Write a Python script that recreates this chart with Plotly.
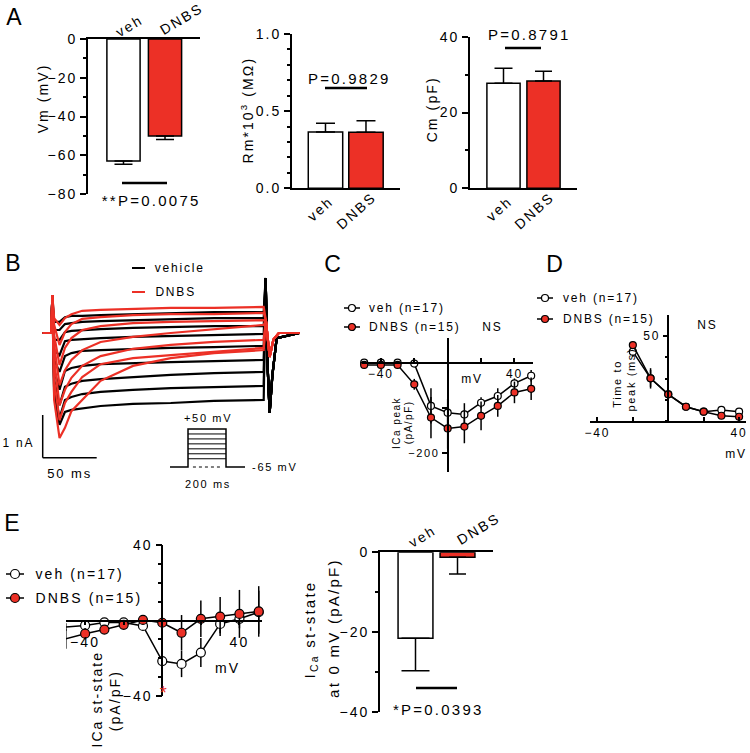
import re
import plotly.graph_objects as go

W, H = 750, 753
FONT = "Liberation Sans, Arial, Helvetica, sans-serif"
RED = "#EC3026"
LW = 1.5
SPACING = 0.15  # letter spacing in em, applied in the page


def fx(p):
    return p / W


def fy(p):
    return 1 - p / H


# ---------------- DATA ----------------
groups = ["veh", "DNBS"]

vm_mean = [-63.0, -50.0]
vm_sem = [1.7, 1.9]
rm_mean = [0.365, 0.363]
rm_sem = [0.056, 0.075]
cm_mean = [27.7, 28.3]
cm_sem = [4.0, 2.6]
ss0_mean = [-21.5, -1.25]
ss0_sem = [8.1, 4.2]

p_vm = "**P=0.0075"
p_rm = "P=0.9829"
p_cm = "P=0.8791"
p_ss0 = "*P=0.0393"

# Panel B: representative current traces (nA) read at these times (ms)
trace_t = [2, 7, 12, 18, 28, 45, 75, 110, 150, 196]
vehicle_traces = [
    [0.26, 0.26, 0.37, 0.40, 0.40, 0.42, 0.44, 0.47, 0.49, 0.49],
    [0.07, 0.07, 0.21, 0.23, 0.26, 0.28, 0.30, 0.33, 0.35, 0.35],
    [-0.16, -0.16, 0.02, 0.05, 0.07, 0.09, 0.12, 0.14, 0.16, 0.16],
    [-0.40, -0.52, -0.19, -0.16, -0.14, -0.12, -0.09, -0.07, -0.05, -0.02],
    [-0.63, -0.91, -0.54, -0.47, -0.42, -0.40, -0.37, -0.35, -0.33, -0.30],
    [-0.87, -1.33, -0.89, -0.82, -0.77, -0.73, -0.70, -0.68, -0.66, -0.63],
    [-1.10, -1.69, -1.26, -1.19, -1.12, -1.08, -1.03, -0.98, -0.94, -0.91],
    [-1.33, -1.99, -1.57, -1.50, -1.43, -1.38, -1.33, -1.29, -1.26, -1.24],
    [-1.45, -2.15, -1.85, -1.80, -1.76, -1.71, -1.66, -1.64, -1.59, -1.57],
]
dnbs_traces = [
    [0.35, 0.19, 0.35, 0.44, 0.52, 0.54, 0.56, 0.59, 0.59, 0.61],
    [0.19, -0.28, 0.02, 0.21, 0.33, 0.37, 0.42, 0.44, 0.44, 0.47],
    [-0.05, -0.75, -0.35, -0.12, 0.07, 0.16, 0.23, 0.26, 0.28, 0.30],
    [-0.28, -1.22, -0.87, -0.63, -0.40, -0.21, -0.09, 0.00, 0.09, 0.19],
    [-0.63, -1.69, -1.33, -1.05, -0.77, -0.54, -0.37, -0.28, -0.21, -0.16],
    [-1.10, -2.04, -1.64, -1.38, -1.03, -0.73, -0.59, -0.52, -0.44, -0.35],
    [-1.57, -2.46, -2.22, -1.83, -1.57, -1.12, -0.77, -0.59, -0.47, -0.40],
]
onset_t = [-8.5, -0.5, 0.3]
onset_i = [0.0, 0.0, 0.89]
vehicle_tail_t = [197.8, 199.3, 201.5, 204, 208, 229]
vehicle_tail_i = [1.29, -0.6, -1.87, -1.0, -0.12, 0.0]
dnbs_tail_t = [198, 201.5, 205, 210, 229]
dnbs_tail_i = [0.3, -0.56, -0.15, 0.0, 0.0]

# voltage protocol
holding_mv = -65
step_mv = [-40, -25, -10, 5, 20, 35, 50]
step_ms = 200
pre_ms = 95
post_ms = 100

# Panel C: peak ICa (pA/pF)
volt = [-50, -40, -30, -20, -10, 0, 10, 20, 30, 40, 50]
peak_veh = [0, 0, 0, -2, -96, -111, -115, -89, -74, -46, -29]
peak_veh_err = [2, 2, 2, 3, 39, 30, 25, 12, 17, 11, 13]
peak_dnbs = [-5, -5, -5, -48, -122, -146, -142, -118, -96, -66, -58]
peak_dnbs_err = [2, 2, 2, 12, 46, 45, 37, 32, 24, 24, 25]

# Panel D: time to peak (ms)
volt_d = [-20, -10, 0, 10, 20, 30, 40]
ttp_veh = [40.8, 25.1, 15.7, 8.4, 5.5, 6.5, 5.5]
ttp_veh_err = [3, 6, 1, 1, 1, 1, 1]
ttp_dnbs = [44.7, 25.1, 15.7, 8.4, 5.5, 3.1, 2.5]
ttp_dnbs_err = [2, 5, 1, 1, 1, 1, 1]

# Panel E: steady-state ICa (pA/pF)
ss_veh = [-3.5, -2.6, -1.0, -1.0, -2.9, -21.5, -23.0, -17.0, -1.8, 0.9, 4.4]
ss_veh_err = [2, 2, 1.5, 1.5, 2, 8, 7, 7.7, 5, 5, 11.4]
ss_dnbs = [-9.7, -7.0, -4.8, -2.3, 0.3, -1.2, -6.5, 0.9, 2.1, 3.5, 4.8]
ss_dnbs_err = [5.3, 3, 2, 2, 2, 4, 9.4, 9.7, 10.3, 12.7, 13.4]

legend_labels = ["veh (n=17)", "DNBS (n=15)"]
trace_labels = ["vehicle", "DNBS"]

# ---------------- FIGURE ----------------
fig = go.Figure()
annotations = []
shapes = []


def ann(text, x, y, size=14, xanchor="center", yanchor="middle", angle=0,
        color="black", family=None):
    if xanchor == "left":
        # compensate the page letter-spacing that widens centred annotation text
        plain = re.sub("<[^>]+>", "", text)
        x += 0.5 * SPACING * size * len(plain)
    annotations.append(dict(
        text=text, x=fx(x), y=fy(y), xref="paper", yref="paper",
        showarrow=False, xanchor=xanchor, yanchor=yanchor, textangle=angle,
        font=dict(size=size, color=color, family=family or FONT)))


def seg(x0, y0, x1, y1, color="black", width=LW, dash=None):
    line = dict(color=color, width=width)
    if dash:
        line["dash"] = dash
    shapes.append(dict(type="line", xref="paper", yref="paper",
                       x0=fx(x0), y0=fy(y0), x1=fx(x1), y1=fy(y1), line=line))


def legend_item(cx, cy, fill, label, size, d, half, tx):
    seg(cx - half, cy, cx + half, cy)
    shapes.append(dict(type="circle", xref="paper", yref="paper",
                       x0=fx(cx - d / 2), x1=fx(cx + d / 2),
                       y0=fy(cy + d / 2), y1=fy(cy - d / 2),
                       fillcolor=fill, line=dict(color="black", width=1.2)))
    ann(label, tx, cy, size, xanchor="left")


def add_bars(xa, ya, means, sems, bw, caps, negative):
    for i, (m, s) in enumerate(zip(means, sems)):
        fig.add_trace(go.Bar(
            x=[i], y=[m], width=bw, xaxis=xa, yaxis=ya, showlegend=False,
            marker=dict(color="white" if i == 0 else RED,
                        line=dict(color="black", width=LW)),
            error_y=dict(type="data", symmetric=False,
                         array=[0 if negative else s],
                         arrayminus=[s if negative else 0],
                         color="black", thickness=LW, width=caps[i])))


def add_series(xa, ya, xs, ys, errs, fill, msize):
    fig.add_trace(go.Scatter(
        x=xs, y=ys, xaxis=xa, yaxis=ya, mode="lines+markers", showlegend=False,
        line=dict(color="black", width=LW), cliponaxis=False,
        marker=dict(size=msize, color=fill, line=dict(color="black", width=1.2)),
        error_y=dict(type="data", array=errs, color="black", thickness=LW, width=0)))


# Panel A bars
add_bars("x", "y", vm_mean, vm_sem, 0.8, [9, 9], True)
add_bars("x2", "y2", rm_mean, rm_sem, 0.85, [9.5, 9.5], False)
add_bars("x3", "y3", cm_mean, cm_sem, 0.83, [9, 8.5], False)
add_bars("x8", "y8", ss0_mean, ss0_sem, 0.83, [14, 8.5], True)

# Panel B traces
for tr in vehicle_traces:
    fig.add_trace(go.Scatter(
        x=onset_t + trace_t + vehicle_tail_t, y=onset_i + tr + vehicle_tail_i,
        xaxis="x4", yaxis="y4", mode="lines", showlegend=False,
        line=dict(color="black", width=2.2)))
for tr in dnbs_traces:
    fig.add_trace(go.Scatter(
        x=onset_t + trace_t + dnbs_tail_t, y=onset_i + tr + dnbs_tail_i,
        xaxis="x4", yaxis="y4", mode="lines", showlegend=False,
        line=dict(color=RED, width=2.2)))

# voltage protocol
fig.add_trace(go.Scatter(
    x=[-pre_ms, 0, 0, step_ms, step_ms, step_ms + post_ms],
    y=[holding_mv, holding_mv, max(step_mv), max(step_mv), holding_mv, holding_mv],
    xaxis="x9", yaxis="y9", mode="lines", showlegend=False,
    line=dict(color="black", width=1.5)))
inner_x, inner_y = [], []
for v in step_mv[:-1]:
    inner_x += [0, step_ms, None]
    inner_y += [v, v, None]
fig.add_trace(go.Scatter(x=inner_x, y=inner_y, xaxis="x9", yaxis="y9",
                         mode="lines", showlegend=False,
                         line=dict(color="black", width=1)))
fig.add_trace(go.Scatter(x=[0.13 * step_ms, 0.9 * step_ms], y=[holding_mv, holding_mv],
                         xaxis="x9", yaxis="y9", mode="lines", showlegend=False,
                         line=dict(color="black", width=1, dash="dot")))

# Panel C
add_series("x5", "y5", volt, peak_veh, peak_veh_err, "white", 7)
add_series("x5", "y5", volt, peak_dnbs, peak_dnbs_err, RED, 7)
# Panel D
add_series("x6", "y6", volt_d, ttp_veh, ttp_veh_err, "white", 7)
add_series("x6", "y6", volt_d, ttp_dnbs, ttp_dnbs_err, RED, 7)
# Panel E left
add_series("x7", "y7", volt, ss_veh, ss_veh_err, "white", 9)
add_series("x7", "y7", volt, ss_dnbs, ss_dnbs_err, RED, 9)


def axstyle(**kw):
    base = dict(showgrid=False, zeroline=False, showline=True, linecolor="black",
                linewidth=LW, ticks="outside", tickcolor="black", tickwidth=LW,
                ticklen=6, tickfont=dict(size=14, family=FONT, color="black"),
                fixedrange=True, automargin=False)
    base.update(kw)
    return base


def bare(**kw):
    base = dict(showgrid=False, zeroline=False, showline=False, ticks="",
                showticklabels=False, fixedrange=True, automargin=False)
    base.update(kw)
    return base


def minor(dt=None, vals=None, ln=3, ticks="outside"):
    d = dict(ticks=ticks, ticklen=ln, tickcolor="black", tickwidth=LW)
    if vals is not None:
        d.update(tickmode="array", tickvals=vals)
    else:
        d.update(dtick=dt)
    return d


cat_axis = dict(showticklabels=False, ticks="")
f12 = dict(size=12, family=FONT, color="black")
f11 = dict(size=11, family=FONT, color="black")

layout_axes = dict(
    # A1
    xaxis=axstyle(domain=[fx(88), fx(200)], range=[-0.855, 1.843], side="top",
                  anchor="y", **cat_axis),
    yaxis=axstyle(domain=[fy(194), fy(39)], range=[-80, 0], anchor="x",
                  dtick=20, minor=minor(10)),
    # A2
    xaxis2=axstyle(domain=[fx(292), fx(400)], range=[-0.827, 1.84], anchor="y2",
                   **cat_axis),
    yaxis2=axstyle(domain=[fy(188.3), fy(34)], range=[0, 1.0], anchor="x2",
                   tickvals=[0, 0.5, 1.0], ticktext=["0.0", "0.5", "1.0"],
                   minor=minor(0.1)),
    # A3
    xaxis3=axstyle(domain=[fx(470), fx(577)], range=[-0.8375, 1.8375], anchor="y3",
                   **cat_axis),
    yaxis3=axstyle(domain=[fy(188.3), fy(36.7)], range=[0, 40], anchor="x3",
                   dtick=20, minor=minor(10)),
    # B traces
    xaxis4=bare(domain=[fx(20), fx(300)], range=[-29.6, 229.6], anchor="y4"),
    yaxis4=bare(domain=[fy(480), fy(255)], range=[-3.443, 1.827], anchor="x4"),
    # C
    xaxis5=axstyle(domain=[fx(362), fx(533)], range=[-51.3, 51.1], anchor="free",
                   position=fy(362.7), tickvals=[-40, 40], ticks="inside", ticklen=4,
                   minor=minor(vals=[-20, 20], ln=4, ticks="inside"), tickfont=f12),
    yaxis5=axstyle(domain=[fy(472), fy(338)], range=[-242.9, 54.9], anchor="free",
                   position=fx(447.6), tickvals=[-200], ticklen=5,
                   minor=minor(vals=[-100], ln=5), tickfont=f11),
    # D
    xaxis6=axstyle(domain=[fx(590), fx(746)], range=[-44.2, 43.9], anchor="y6",
                   tickvals=[-40, 40], ticks="inside", ticklen=4,
                   minor=minor(vals=[-20, 20], ln=4, ticks="inside"), tickfont=f12),
    yaxis6=axstyle(domain=[fy(421), fy(315)], range=[0, 62.4], anchor="free",
                   position=fx(668.3), tickvals=[50], ticklen=5,
                   minor=minor(12.5), tickfont=f12),
    # E left
    xaxis7=axstyle(domain=[fx(66), fx(262)], range=[-49.9, 51.7], anchor="free",
                   position=fy(620.5), tickvals=[-40, 40], ticklen=4,
                   ticklabelstandoff=5, minor=minor(vals=[-20, 20], ln=4)),
    yaxis7=axstyle(domain=[fy(696), fy(545)], range=[-40, 40], anchor="free",
                   position=fx(162.3), tickvals=[-40, 40], minor=minor(10, ln=4)),
    # E right
    xaxis8=axstyle(domain=[fx(380), fx(493)], range=[-0.845, 1.845], side="top",
                   anchor="y8", **cat_axis),
    yaxis8=axstyle(domain=[fy(712.3), fy(552.3)], range=[-40, 0], anchor="x8",
                   dtick=20, minor=minor(10)),
    # protocol inset
    xaxis9=bare(domain=[fx(160), fx(250)], range=[-147.4, 326.3], anchor="y9"),
    yaxis9=bare(domain=[fy(472), fy(425)], range=[-80.1, 62.1], anchor="x9"),
)

# ---- annotations / decorations ----
for letter, x, y in [("A", 16, 17), ("B", 14, 263), ("C", 334, 264),
                     ("D", 556, 264), ("E", 13, 523)]:
    ann(letter, x, y, 23)

# rotated group labels
for (xv, yv), (xd, yd), ang in [((129, 26), (181, 19), -31),
                                ((320, 209), (356, 211), -42),
                                ((499, 209), (534, 211), -42),
                                ((423, 536), (478, 529), -31)]:
    ann(groups[0], xv, yv, 14, angle=ang)
    ann(groups[1], xd, yd, 14, angle=ang)

# A titles and p values
ann("Vm (mV)", 43, 99, 14, angle=-90)
ann("Rm*10<sup>3</sup> (MΩ)", 247, 110, 14, angle=-90)
ann("Cm (pF)", 432, 109, 14, angle=-90)
ann(p_vm, 151, 200, 15)
ann(p_rm, 349, 78, 15)
ann(p_cm, 529, 35, 15)
seg(122, 183, 167, 183, width=2.5)
seg(325, 88, 367, 88, width=2.5)
seg(505, 48, 541, 48, width=2.5)

# B legend, scale bars and protocol labels
seg(132, 268, 145, 268, width=2)
seg(132, 292, 145, 292, color=RED, width=2)
ann(trace_labels[0], 153, 268, 12, xanchor="left")
ann(trace_labels[1], 153, 292, 12, xanchor="left")
seg(42.7, 415, 42.7, 457.7)
seg(42.7, 457.7, 96.7, 457.7)
ann("1 nA", 18, 443, 12)
ann("50 ms", 70, 473, 13)
ann("+50 mV", 208, 418, 11)
ann("-65 mV", 250, 467, 11, xanchor="left")
ann("200 ms", 208, 484, 11)

# C
legend_item(352, 308, "white", legend_labels[0], 12, 7, 8, 367)
legend_item(352, 327, RED, legend_labels[1], 12, 7, 8, 367)
ann("NS", 492, 327, 12)
ann("mV", 472, 379, 12)
ann("ICa peak", 397, 423, 10, angle=-90)
ann("(pA/pF)", 409, 423, 10, angle=-90)

# D
legend_item(545, 298, "white", legend_labels[0], 12, 7, 8, 561)
legend_item(545, 319, RED, legend_labels[1], 12, 7, 8, 561)
ann("NS", 707, 325, 12)
ann("mV", 736, 454, 12)
ann("Time to", 617, 384, 11, angle=-90)
ann("peak (ms)", 631, 380, 11, angle=-90)

# E left
legend_item(15, 574, "white", legend_labels[0], 14, 9, 9, 33)
legend_item(15, 598, RED, legend_labels[1], 14, 9, 9, 33)
ann("mV", 228, 668, 14)
ann("*", 164, 693, 18, color=RED)
ann("ICa st-state", 97, 699, 14, angle=-90)
ann("(pA/pF)", 115, 700, 14, angle=-90)

# E right
ann("I<sub>Ca</sub> st-state", 310, 630, 15, angle=-90)
ann("at 0 mV (pA/pF)", 333, 628, 15, angle=-90)
ann(p_ss0, 438, 709, 15)
seg(416, 688, 457, 688, width=2.5)

fig.update_layout(
    width=W, height=H,
    margin=dict(l=0, r=0, t=0, b=0, pad=0, autoexpand=False),
    paper_bgcolor="white", plot_bgcolor="rgba(0,0,0,0)",
    barmode="overlay", showlegend=False,
    font=dict(family=FONT, size=14, color="black"),
    annotations=annotations, shapes=shapes,
    **layout_axes,
)

post = ("document.documentElement.style.margin='0';"
        "document.body.style.margin='0';document.body.style.padding='0';"
        "document.body.style.overflow='hidden';"
        "var gd=document.getElementById('{plot_id}');"
        "function ls(){var ts=gd.querySelectorAll('text');"
        "for(var i=0;i<ts.length;i++){ts[i].style.letterSpacing='" + str(SPACING) + "em';}}"
        "ls();gd.on('plotly_afterplot',ls);")

fig.write_html("out.html", post_script=post, config={"displayModeBar": False})
